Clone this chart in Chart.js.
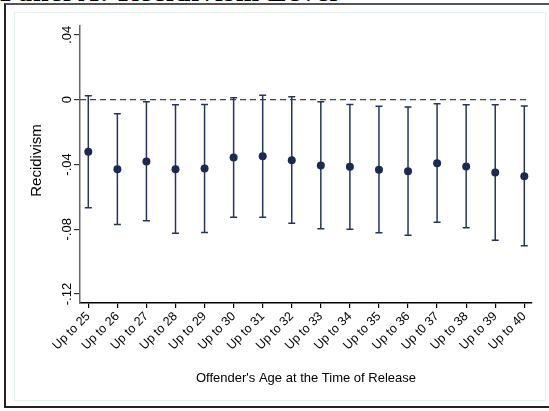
<!DOCTYPE html>
<html>
<head>
<meta charset="utf-8">
<script src="https://cdn.jsdelivr.net/npm/chart.js@4/dist/chart.umd.min.js"></script>
<style>
  html, body { margin: 0; padding: 0; background: #fff; }
  #wrap { position: relative; width: 549px; height: 411px; overflow: hidden; }
  #heading { position: absolute; left: 0; top: -20px; font: bold 28px "Liberation Serif", serif; line-height: 24px; letter-spacing: 1px; white-space: nowrap; color: #000; }
  #outer { position: absolute; left: 4px; top: 3px; width: 560px; height: 405px; border-left: 2px solid #222; border-top: 2px solid #555; border-bottom: 2px solid #222; box-sizing: border-box; }
  #inner { position: absolute; left: 14px; top: 12px; width: 532px; height: 389px; border: 1px solid #e6efef; box-sizing: border-box; }
  canvas { position: absolute; left: 0; top: 0; }
</style>
</head>
<body>
<div id="wrap">
  <div id="heading">Panel A: Recidivism Level</div>
  <div id="outer"></div>
  <div id="inner"></div>
  <canvas id="c" width="549" height="411"></canvas>
</div>
<script>
// Release-age cutoffs
const categories = ['Up to 25', 'Up to 26', 'Up to 27', 'Up to 28', 'Up to 29', 'Up to 30', 'Up to 31', 'Up to 32',
                    'Up to 33', 'Up to 34', 'Up to 35', 'Up to 36', 'Up t0 37', 'Up to 38', 'Up to 39', 'Up to 40'];
// Point estimates and 95% confidence bounds
const estimates = [-0.0322, -0.0429, -0.0382, -0.0429, -0.0425, -0.0357, -0.0349, -0.0373,
                   -0.0406, -0.0414, -0.0433, -0.0441, -0.0392, -0.0412, -0.0449, -0.0472];
const lowerCI   = [-0.0667, -0.0771, -0.0747, -0.0824, -0.0820, -0.0726, -0.0726, -0.0763,
                   -0.0796, -0.0800, -0.0822, -0.0837, -0.0757, -0.0790, -0.0867, -0.0902];
const upperCI   = [ 0.0025, -0.0086, -0.0012, -0.0031, -0.0029,  0.0012,  0.0028,  0.0018,
                   -0.0012, -0.0029, -0.0041, -0.0045, -0.0025, -0.0031, -0.0031, -0.0039];
// Vertical axis ticks
const yTickValues = [0.04, 0, -0.04, -0.08, -0.12];
const yTickLabels = ['.04', '0', '-.04', '-.08', '-.12'];

const navy = '#1b2a52';
const FONT = '"Liberation Sans", Arial, sans-serif';

const points = estimates.map((v, i) => ({ x: i, y: v }));

// Confidence whiskers, zero reference line, rotated y labels and y title
const extras = {
  id: 'extras',
  beforeDatasetsDraw(chart) {
    const { ctx, chartArea } = chart;
    const xs = chart.scales.x, ys = chart.scales.y;
    ctx.save();
    // dashed zero line
    const y0 = ys.getPixelForValue(0);
    ctx.strokeStyle = '#444';
    ctx.lineWidth = 1.3;
    ctx.setLineDash([6, 4]);
    ctx.beginPath();
    ctx.moveTo(chartArea.left, y0);
    ctx.lineTo(xs.getPixelForValue(15.12), y0);
    ctx.stroke();
    ctx.setLineDash([]);
    // whiskers with caps
    ctx.strokeStyle = '#26355f';
    ctx.lineWidth = 1.5;
    const cap = 3.5;
    categories.forEach((_, i) => {
      const x = xs.getPixelForValue(i);
      const yl = ys.getPixelForValue(lowerCI[i]);
      const yu = ys.getPixelForValue(upperCI[i]);
      ctx.beginPath();
      ctx.moveTo(x, yl); ctx.lineTo(x, yu);
      ctx.moveTo(x - cap, yl); ctx.lineTo(x + cap, yl);
      ctx.moveTo(x - cap, yu); ctx.lineTo(x + cap, yu);
      ctx.stroke();
    });
    ctx.restore();
  },
  afterDraw(chart) {
    const { ctx, chartArea } = chart;
    const ys = chart.scales.y;
    ctx.save();
    ctx.fillStyle = '#000';
    ctx.textAlign = 'center';
    ctx.textBaseline = 'middle';
    ctx.font = '13px ' + FONT;
    yTickValues.forEach((v, i) => {
      ctx.save();
      ctx.translate(67, ys.getPixelForValue(v));
      ctx.rotate(-Math.PI / 2);
      ctx.fillText(yTickLabels[i], 0, 0);
      ctx.restore();
    });
    ctx.font = '15px ' + FONT;
    ctx.translate(37, (chartArea.top + chartArea.bottom) / 2 - 4);
    ctx.rotate(-Math.PI / 2);
    ctx.fillText('Recidivism', 0, 0);
    ctx.restore();
  }
};

new Chart(document.getElementById('c'), {
  type: 'scatter',
  data: {
    datasets: [{
      data: points,
      pointRadius: 4,
      pointHoverRadius: 4,
      pointBackgroundColor: navy,
      pointBorderColor: navy,
      pointBorderWidth: 0
    }]
  },
  options: {
    responsive: false,
    animation: false,
    events: [],
    layout: { padding: { top: 26, right: 17, left: 0, bottom: 0 } },
    plugins: { legend: { display: false }, tooltip: { enabled: false } },
    scales: {
      x: {
        type: 'linear',
        min: -0.2855,
        max: 15.265,
        afterBuildTicks(scale) { scale.ticks = categories.map((_, i) => ({ value: i })); },
        afterFit(scale) { scale.height = 108; },
        grid: { display: true, drawOnChartArea: false, drawTicks: true, tickLength: 5, color: '#000', lineWidth: 1.2 },
        border: { display: true, color: '#000', width: 1.5 },
        ticks: {
          autoSkip: false,
          minRotation: 45,
          maxRotation: 45,
          padding: 1,
          color: '#000',
          font: { family: FONT, size: 12.5 },
          callback: (v) => categories[v]
        },
        title: {
          display: true,
          text: "Offender's Age at the Time of Release",
          color: '#000',
          font: { family: FONT, size: 13 },
          padding: { top: 0, bottom: 25 }
        }
      },
      y: {
        min: -0.1255,
        max: 0.0455,
        afterBuildTicks(scale) { scale.ticks = yTickValues.map(v => ({ value: v })); },
        afterFit(scale) { scale.width = 80; },
        grid: { display: true, drawOnChartArea: false, drawTicks: true, tickLength: 6, color: '#333', lineWidth: 1.2 },
        border: { display: true, color: '#666', width: 1.5 },
        ticks: { display: false }
      }
    }
  },
  plugins: [extras]
});
</script>
</body>
</html>
